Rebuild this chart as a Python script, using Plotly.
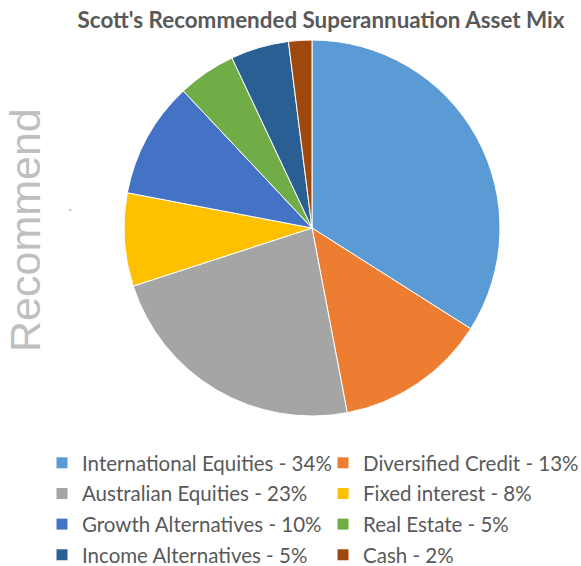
import plotly.graph_objects as go

categories = ["International Equities", "Diversified Credit", "Australian Equities",
              "Fixed interest", "Growth Alternatives", "Real Estate",
              "Income Alternatives", "Cash"]
values = [34, 13, 23, 8, 10, 5, 5, 2]
colors = ["#5B9BD5", "#ED7D31", "#A5A5A5", "#FFC000",
          "#4472C4", "#70AD47", "#2A5F93", "#9E480E"]

W, H = 581, 566
cx, cy, r = 312, 228, 188

labels = [f"{c} - {v}%" for c, v in zip(categories, values)]

fig = go.Figure()
fig.add_trace(go.Pie(
    labels=labels, values=values, sort=False, direction="clockwise", rotation=0,
    marker=dict(colors=colors, line=dict(color="white", width=1)),
    textinfo="none", hoverinfo="label", showlegend=False,
    domain=dict(x=[(cx - r) / W, (cx + r) / W], y=[1 - (cy + r) / H, 1 - (cy - r) / H]),
))

# legend entries: left column = even index, right column = odd index
for i, (lab, col) in enumerate(zip(labels, colors)):
    fig.add_trace(go.Scatter(
        x=[None], y=[None], mode="markers", name=lab,
        marker=dict(symbol="square", size=11, color=col),
        legend="legend" if i % 2 == 0 else "legend2",
        legendgroup=f"g{i}", showlegend=True, hoverinfo="skip",
    ))

leg_font = dict(size=20.5, color="#595959", family="Lato")
fig.update_layout(
    width=W, height=H, margin=dict(l=0, r=0, t=0, b=0, autoexpand=False),
    paper_bgcolor="white", plot_bgcolor="white",
    font=dict(family="Lato", color="#595959"),
    xaxis=dict(visible=False), yaxis=dict(visible=False),
    title=dict(text="<b>Scott's Recommended Superannuation Asset Mix</b>",
               x=321 / W, xanchor="center", y=1 - 20 / H, yanchor="middle",
               font=dict(size=22.4, color="#595959", family="Lato")),
    legend=dict(orientation="v", x=42 / W, xanchor="left", y=1 - 443 / H, yanchor="top",
                font=leg_font, tracegroupgap=1, bgcolor="rgba(0,0,0,0)"),
    legend2=dict(orientation="v", x=323 / W, xanchor="left", y=1 - 443 / H, yanchor="top",
                 font=leg_font, tracegroupgap=1, bgcolor="rgba(0,0,0,0)"),
    annotations=[
        dict(text="Recommend", x=25 / W, y=1 - 230 / H, xref="paper", yref="paper",
             showarrow=False, textangle=-90, xanchor="center", yanchor="middle",
             font=dict(size=43, color="#BFBFBF", family="Liberation Sans")),
        dict(text=".", x=70 / W, y=1 - 205 / H, xref="paper", yref="paper",
             showarrow=False, xanchor="center", yanchor="middle",
             font=dict(size=16, color="#A6A6A6", family="Liberation Sans")),
    ],
)

fig.write_html("out.html")
